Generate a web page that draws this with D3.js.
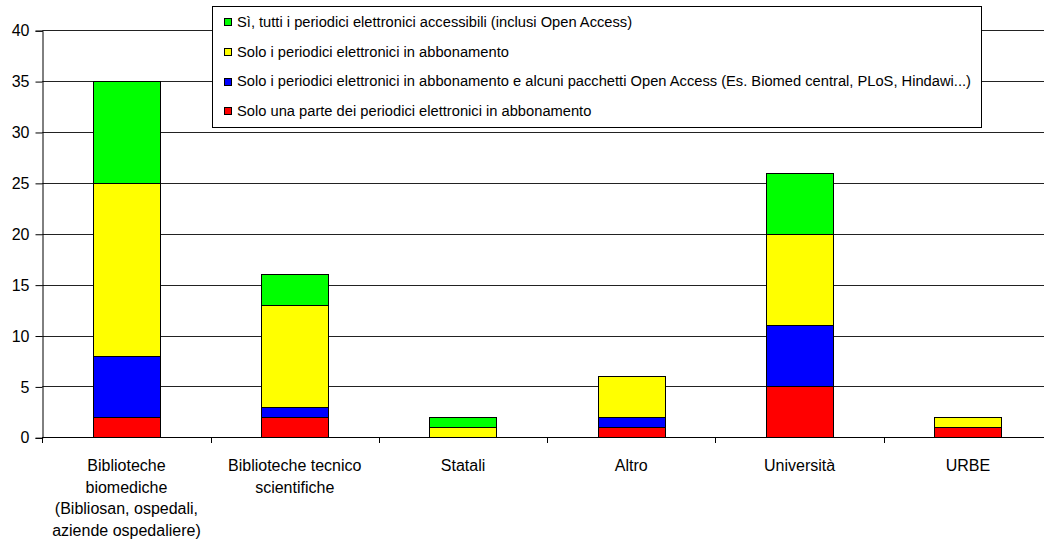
<!DOCTYPE html>
<html>
<head>
<meta charset="utf-8">
<script src="https://cdn.jsdelivr.net/npm/d3@7"></script>
<style>
  body { margin: 0; background: #fff; }
  text { font-family: "Liberation Sans", Arial, sans-serif; fill: #000; }
</style>
</head>
<body>
<div id="chart"></div>
<script>
var svgWidth = 1044;
var svgHeight = 544;

// data
var categories = ["Biomediche", "Tecnico scientifiche", "Statali", "Altro", "Università", "URBE"];
var tickLabels = [
  ["Biblioteche", "biomediche", "(Bibliosan, ospedali,", "aziende ospedaliere)"],
  ["Biblioteche tecnico", "scientifiche"],
  ["Statali"],
  ["Altro"],
  ["Università"],
  ["URBE"]
];
var seriesNames = [
  "Solo una parte dei periodici elettronici in abbonamento",
  "Solo i periodici elettronici in abbonamento e alcuni pacchetti Open Access (Es. Biomed central, PLoS, Hindawi...)",
  "Solo i periodici elettronici in abbonamento",
  "Sì, tutti i periodici elettronici accessibili (inclusi Open Access)"
];
var seriesColors = ["#ff0000", "#0000ff", "#ffff00", "#00ff00"];
var parteValues = [2, 2, 0, 1, 5, 1];
var alcuniOAValues = [6, 1, 0, 1, 6, 0];
var abbonamentoValues = [17, 10, 1, 4, 9, 1];
var tuttiValues = [10, 3, 1, 0, 6, 0];
var yTicks = [0, 5, 10, 15, 20, 25, 30, 35, 40];

var seriesValues = [parteValues, alcuniOAValues, abbonamentoValues, tuttiValues];

var margin = { top: 30.2, left: 42.3 };
var plotRight = 1052;
var plotBottom = 437.3;

var svg = d3.select("#chart")
  .append("svg")
  .attr("width", svgWidth)
  .attr("height", svgHeight);

var xScale = d3.scaleBand()
  .domain(categories)
  .range([margin.left, plotRight])
  .paddingInner(0.6)
  .paddingOuter(0.3);

var yScale = d3.scaleLinear()
  .domain([0, 40])
  .range([plotBottom, margin.top]);

// gridlines
svg.append("g")
  .selectAll("line")
  .data(yTicks)
  .enter()
  .append("line")
  .attr("x1", margin.left)
  .attr("x2", plotRight)
  .attr("y1", d => Math.round(yScale(d)) + 0.5)
  .attr("y2", d => Math.round(yScale(d)) + 0.5)
  .attr("stroke", "#222")
  .attr("stroke-width", 1);

// stacked table
var table = categories.map(function(c, i) {
  var row = { cat: c };
  seriesValues.forEach(function(s, k) { row["s" + k] = s[i]; });
  return row;
});
var stack = d3.stack().keys(seriesValues.map((s, k) => "s" + k));
var stacked = stack(table);

svg.append("g")
  .selectAll("g")
  .data(stacked)
  .enter()
  .append("g")
  .attr("fill", (d, k) => seriesColors[k])
  .selectAll("rect")
  .data(d => d.filter(p => p[1] - p[0] > 0))
  .enter()
  .append("rect")
  .attr("x", d => Math.round(xScale(d.data.cat)) + 0.5)
  .attr("width", Math.round(xScale.bandwidth()))
  .attr("y", d => Math.round(yScale(d[1])) + 0.5)
  .attr("height", d => Math.round(yScale(d[0])) - Math.round(yScale(d[1])))
  .attr("stroke", "#000")
  .attr("stroke-width", 1);

// y axis
var leftAxis = d3.axisLeft(yScale)
  .tickValues(yTicks)
  .tickSize(7)
  .tickPadding(6);

var yAxis = svg.append("g")
  .attr("transform", `translate(${Math.round(margin.left) + 0.5}, 0.5)`)
  .call(leftAxis);
yAxis.select(".domain").attr("stroke", "#000");
yAxis.selectAll(".tick line").attr("stroke", "#000");
yAxis.selectAll(".tick text")
  .style("font-family", "'Liberation Sans', Arial, sans-serif")
  .style("font-size", "16px")
  .attr("fill", "#000");

// x axis line and tick marks between categories
var step = xScale.step();
var boundaries = categories.map(c => xScale(c) + xScale.bandwidth() / 2 - step / 2);
boundaries.push(plotRight);

svg.append("line")
  .attr("x1", margin.left)
  .attr("x2", plotRight)
  .attr("y1", Math.round(plotBottom) + 0.5)
  .attr("y2", Math.round(plotBottom) + 0.5)
  .attr("stroke", "#000");

svg.append("g")
  .selectAll("line")
  .data(boundaries)
  .enter()
  .append("line")
  .attr("x1", d => Math.round(d) + 0.5)
  .attr("x2", d => Math.round(d) + 0.5)
  .attr("y1", Math.round(plotBottom))
  .attr("y2", Math.round(plotBottom) + 6)
  .attr("stroke", "#000");

// category labels
var labelGroup = svg.append("g");
categories.forEach(function(c, i) {
  var t = labelGroup.append("text")
    .attr("x", xScale(c) + xScale.bandwidth() / 2)
    .attr("y", 471)
    .attr("text-anchor", "middle")
    .style("font-size", "16px");
  tickLabels[i].forEach(function(line, j) {
    t.append("tspan")
      .attr("x", xScale(c) + xScale.bandwidth() / 2)
      .attr("dy", j === 0 ? 0 : 21.7)
      .text(line);
  });
});

// legend
var legend = svg.append("g");
legend.append("rect")
  .attr("x", 212.5)
  .attr("y", 6.5)
  .attr("width", 769)
  .attr("height", 121)
  .attr("fill", "#fff")
  .attr("stroke", "#000");

var legendOrder = [3, 2, 1, 0];
legendOrder.forEach(function(k, r) {
  var cy = 21.5 + r * 29.8;
  legend.append("rect")
    .attr("x", 224.5)
    .attr("y", Math.round(cy - 3.5) + 0.5)
    .attr("width", 7)
    .attr("height", 7)
    .attr("fill", seriesColors[k])
    .attr("stroke", "#000");
  legend.append("text")
    .attr("x", 237)
    .attr("y", cy + 5.2)
    .style("font-size", "14.7px")
    .text(seriesNames[k]);
});
</script>
</body>
</html>
